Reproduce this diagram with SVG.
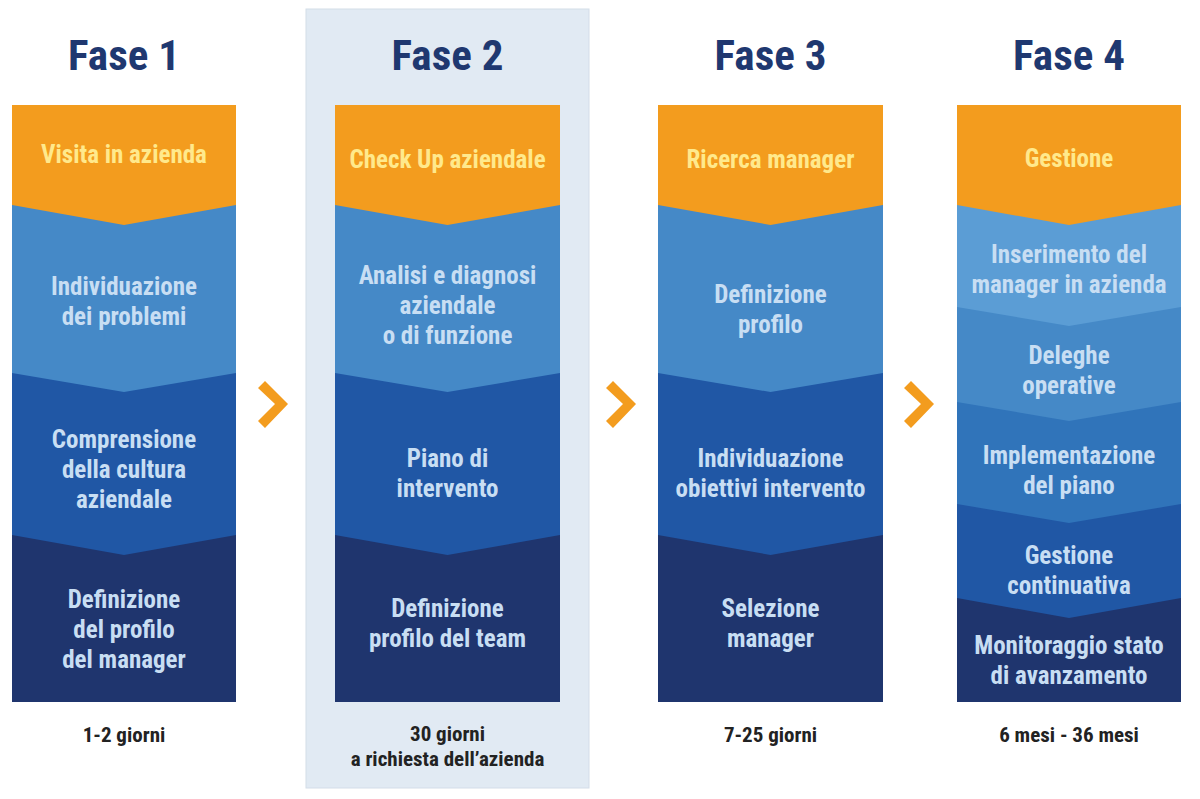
<svg xmlns="http://www.w3.org/2000/svg" width="1200" height="799" viewBox="0 0 1200 799">
<style>
text{font-family:"Liberation Sans Narrow","Roboto Condensed","DejaVu Sans Condensed","Liberation Sans",sans-serif;font-weight:bold;text-anchor:middle}
.title{font-size:43px;fill:#1f3870}
.orl{font-size:25px;fill:#ffe98c}
.bl{font-size:25px;fill:#c8def3}
.foot{font-size:21px;fill:#222}
.o{fill:#f39c1e}
.b1{fill:#5b9dd5}
.b2{fill:#4589c7}
.b3{fill:#3074ba}
.b4{fill:#2057a5}
.b5{fill:#1f356e}
.arrow{fill:#f39c1e}
</style>
<rect x="306" y="9" width="283" height="779" fill="#e1eaf3" stroke="#d3dde8" stroke-width="1"/>

<g id="fase1">
<text class="title" x="124" y="70">Fase 1</text>
<rect class="b5" x="12" y="105" width="224" height="597"/>
<polygon class="b4" points="12,105 236,105 236,535 124,555 12,535"/>
<polygon class="b2" points="12,105 236,105 236,373 124,392 12,373"/>
<polygon class="o" points="12,105 236,105 236,205 124,225 12,205"/>
<text class="orl" x="124" y="163">Visita in azienda</text>
<text class="bl" x="124" y="295">Individuazione</text>
<text class="bl" x="124" y="325">dei problemi</text>
<text class="bl" x="124" y="448">Comprensione</text>
<text class="bl" x="124" y="478">della cultura</text>
<text class="bl" x="124" y="508">aziendale</text>
<text class="bl" x="124" y="608">Definizione</text>
<text class="bl" x="124" y="638">del profilo</text>
<text class="bl" x="124" y="668">del manager</text>
<text class="foot" x="124" y="742">1-2 giorni</text>
</g>

<g id="fase2">
<text class="title" x="447.5" y="70">Fase 2</text>
<rect class="b5" x="335" y="105" width="225" height="597"/>
<polygon class="b4" points="335,105 560,105 560,535 447.5,555 335,535"/>
<polygon class="b2" points="335,105 560,105 560,373 447.5,392 335,373"/>
<polygon class="o" points="335,105 560,105 560,205 447.5,225 335,205"/>
<text class="orl" x="447.5" y="168">Check Up aziendale</text>
<text class="bl" x="447.5" y="284">Analisi e diagnosi</text>
<text class="bl" x="447.5" y="314">aziendale</text>
<text class="bl" x="447.5" y="344">o di funzione</text>
<text class="bl" x="447.5" y="467">Piano di</text>
<text class="bl" x="447.5" y="497">intervento</text>
<text class="bl" x="447.5" y="617">Definizione</text>
<text class="bl" x="447.5" y="647">profilo del team</text>
<text class="foot" x="447.5" y="741">30 giorni</text>
<text class="foot" x="447.5" y="766">a richiesta dell’azienda</text>
</g>

<g id="fase3">
<text class="title" x="770.5" y="70">Fase 3</text>
<rect class="b5" x="658" y="105" width="225" height="597"/>
<polygon class="b4" points="658,105 883,105 883,535 770.5,555 658,535"/>
<polygon class="b2" points="658,105 883,105 883,373 770.5,392 658,373"/>
<polygon class="o" points="658,105 883,105 883,205 770.5,225 658,205"/>
<text class="orl" x="770.5" y="168">Ricerca manager</text>
<text class="bl" x="770.5" y="303">Definizione</text>
<text class="bl" x="770.5" y="333">profilo</text>
<text class="bl" x="770.5" y="467">Individuazione</text>
<text class="bl" x="770.5" y="497">obiettivi intervento</text>
<text class="bl" x="770.5" y="617">Selezione</text>
<text class="bl" x="770.5" y="647">manager</text>
<text class="foot" x="770.5" y="742">7-25 giorni</text>
</g>

<g id="fase4">
<text class="title" x="1069" y="70">Fase 4</text>
<rect class="b5" x="957" y="105" width="224" height="597"/>
<polygon class="b4" points="957,105 1181,105 1181,598 1069,618 957,598"/>
<polygon class="b3" points="957,105 1181,105 1181,504 1069,523 957,504"/>
<polygon class="b2" points="957,105 1181,105 1181,402 1069,421 957,402"/>
<polygon class="b1" points="957,105 1181,105 1181,307 1069,326 957,307"/>
<polygon class="o" points="957,105 1181,105 1181,205 1069,225 957,205"/>
<text class="orl" x="1069" y="167">Gestione</text>
<text class="bl" x="1069" y="263">Inserimento del</text>
<text class="bl" x="1069" y="293">manager in azienda</text>
<text class="bl" x="1069" y="364">Deleghe</text>
<text class="bl" x="1069" y="394">operative</text>
<text class="bl" x="1069" y="464">Implementazione</text>
<text class="bl" x="1069" y="494">del piano</text>
<text class="bl" x="1069" y="564">Gestione</text>
<text class="bl" x="1069" y="594">continuativa</text>
<text class="bl" x="1069" y="654">Monitoraggio stato</text>
<text class="bl" x="1069" y="684">di avanzamento</text>
<text class="foot" x="1069" y="742">6 mesi - 36 mesi</text>
</g>

<g id="connectors">
<polygon class="arrow" points="258,388 265,381 288,404 265,428 258,421 275,404"/>
<polygon class="arrow" points="606,388 613,381 636,404 613,428 606,421 623,404"/>
<polygon class="arrow" points="904,388 911,381 934,404 911,428 904,421 921,404"/>
</g>
</svg>
